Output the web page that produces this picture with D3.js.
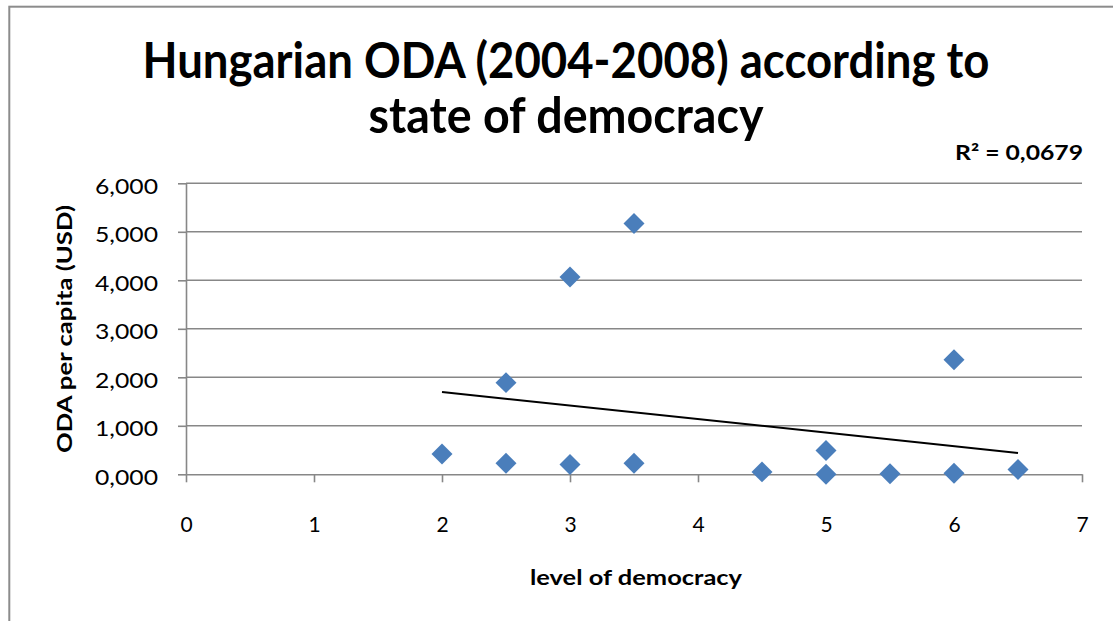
<!DOCTYPE html>
<html>
<head>
<meta charset="utf-8">
<script src="https://cdn.jsdelivr.net/npm/d3@7"></script>
<style>
  html, body { margin: 0; padding: 0; background: #fff; }
  svg { display: block; font-family: Lato, "Open Sans", "Liberation Sans", sans-serif; }
</style>
</head>
<body>
<svg id="chart" width="1113" height="621"></svg>
<script>
// Democracy level (x) and Hungarian ODA per capita in USD (y), one entry per recipient
const democracyLevel = [2, 2.5, 2.5, 3, 3, 3.5, 3.5, 4.5, 5, 5, 5.5, 6, 6, 6.5];
const odaPerCapita   = [0.42, 1.89, 0.23, 4.07, 0.20, 5.17, 0.23, 0.05, 0.49, 0.00, 0.01, 2.36, 0.02, 0.10];

const xTicks = [0, 1, 2, 3, 4, 5, 6, 7];
const yTicks = [0, 1, 2, 3, 4, 5, 6];

const titleLines = ["Hungarian ODA (2004-2008) according to", "state of democracy"];
const rSquaredLabel = "R² = 0,0679";
const xTitle = "level of democracy";
const yTitle = "ODA per capita (USD)";

const svg = d3.select("#chart");

// Hungarian-style number format: comma as decimal separator
const hu = d3.formatLocale({ decimal: ",", thousands: " ", grouping: [3], currency: ["", " Ft"] });
const fmtY = hu.format(".3f");

const x = d3.scaleLinear().domain([0, 7]).range([186, 1082]);
const y = d3.scaleLinear().domain([0, 6]).range([474.3, 183.3]);

const gridColor = "#878787";

// chart frame
svg.append("rect")
  .attr("x", 9.3).attr("y", 6.7)
  .attr("width", 1200).attr("height", 700)
  .attr("fill", "none").attr("stroke", "#8c8c8c").attr("stroke-width", 2);

// horizontal gridlines
svg.append("g").selectAll("line")
  .data(yTicks.filter(d => d > 0))
  .join("line")
  .attr("x1", x(0)).attr("x2", x(7))
  .attr("y1", d => y(d)).attr("y2", d => y(d))
  .attr("stroke", gridColor).attr("stroke-width", 1.6);

// y axis
const yAxis = svg.append("g")
  .attr("transform", `translate(${x(0)},0)`)
  .call(d3.axisLeft(y).tickValues(yTicks).tickFormat(fmtY).tickSize(8).tickSizeOuter(0));
yAxis.select(".domain").attr("stroke", gridColor).attr("stroke-width", 1.6);
yAxis.selectAll(".tick line").attr("stroke", gridColor).attr("stroke-width", 1.6);
yAxis.selectAll(".tick text")
  .attr("x", -28).attr("dy", null).attr("y", 10)
  .attr("font-size", 21).attr("fill", "#000")
  .attr("textLength", 63).attr("lengthAdjust", "spacingAndGlyphs")
  .attr("font-family", "Lato, 'Open Sans', sans-serif");

// x axis
const xAxis = svg.append("g")
  .attr("transform", `translate(0,${y(0)})`)
  .call(d3.axisBottom(x).tickValues(xTicks).tickFormat(d3.format("d")).tickSize(8).tickSizeOuter(0));
xAxis.select(".domain").attr("stroke", gridColor).attr("stroke-width", 1.6);
xAxis.selectAll(".tick line").attr("stroke", gridColor).attr("stroke-width", 1.6);
xAxis.selectAll(".tick text")
  .attr("y", 57.5).attr("dy", null)
  .attr("font-size", 21).attr("fill", "#000")
  .attr("font-family", "Lato, 'Open Sans', sans-serif");

// least-squares trend line over the data range
const n = democracyLevel.length;
const mx = d3.mean(democracyLevel), my = d3.mean(odaPerCapita);
let sxy = 0, sxx = 0;
for (let i = 0; i < n; i++) {
  sxy += (democracyLevel[i] - mx) * (odaPerCapita[i] - my);
  sxx += (democracyLevel[i] - mx) ** 2;
}
const slope = sxy / sxx, intercept = my - slope * mx;
const [xMin, xMax] = d3.extent(democracyLevel);
svg.append("line")
  .attr("x1", x(xMin)).attr("y1", y(intercept + slope * xMin))
  .attr("x2", x(xMax)).attr("y2", y(intercept + slope * xMax))
  .attr("stroke", "#000").attr("stroke-width", 2);

// diamond markers
const diamond = d3.symbol().type(d3.symbolSquare).size(220);
svg.append("g").selectAll("path")
  .data(democracyLevel.map((d, i) => [d, odaPerCapita[i]]))
  .join("path")
  .attr("d", diamond)
  .attr("transform", d => `translate(${x(d[0])},${y(d[1])}) rotate(45)`)
  .attr("fill", "#4a7ebb");

// title
svg.append("text")
  .attr("x", 566).attr("y", 78)
  .attr("text-anchor", "middle")
  .attr("font-size", 50).attr("font-weight", 700)
  .attr("textLength", 847).attr("lengthAdjust", "spacingAndGlyphs")
  .text(titleLines[0]);
svg.append("text")
  .attr("x", 566).attr("y", 133)
  .attr("text-anchor", "middle")
  .attr("font-size", 50).attr("font-weight", 700)
  .attr("textLength", 395).attr("lengthAdjust", "spacingAndGlyphs")
  .text(titleLines[1]);

// R² label of the trend line
svg.append("text")
  .attr("x", 1083).attr("y", 160)
  .attr("text-anchor", "end")
  .attr("font-size", 21).attr("font-weight", 700)
  .attr("textLength", 128).attr("lengthAdjust", "spacingAndGlyphs")
  .text(rSquaredLabel);

// axis titles
svg.append("text")
  .attr("x", 636).attr("y", 585)
  .attr("text-anchor", "middle")
  .attr("font-size", 21).attr("font-weight", 700)
  .attr("textLength", 212).attr("lengthAdjust", "spacingAndGlyphs")
  .text(xTitle);
svg.append("text")
  .attr("transform", "translate(72,329) rotate(-90)")
  .attr("text-anchor", "middle")
  .attr("font-size", 21).attr("font-weight", 700)
  .attr("textLength", 248).attr("lengthAdjust", "spacingAndGlyphs")
  .text(yTitle);
</script>
</body>
</html>
